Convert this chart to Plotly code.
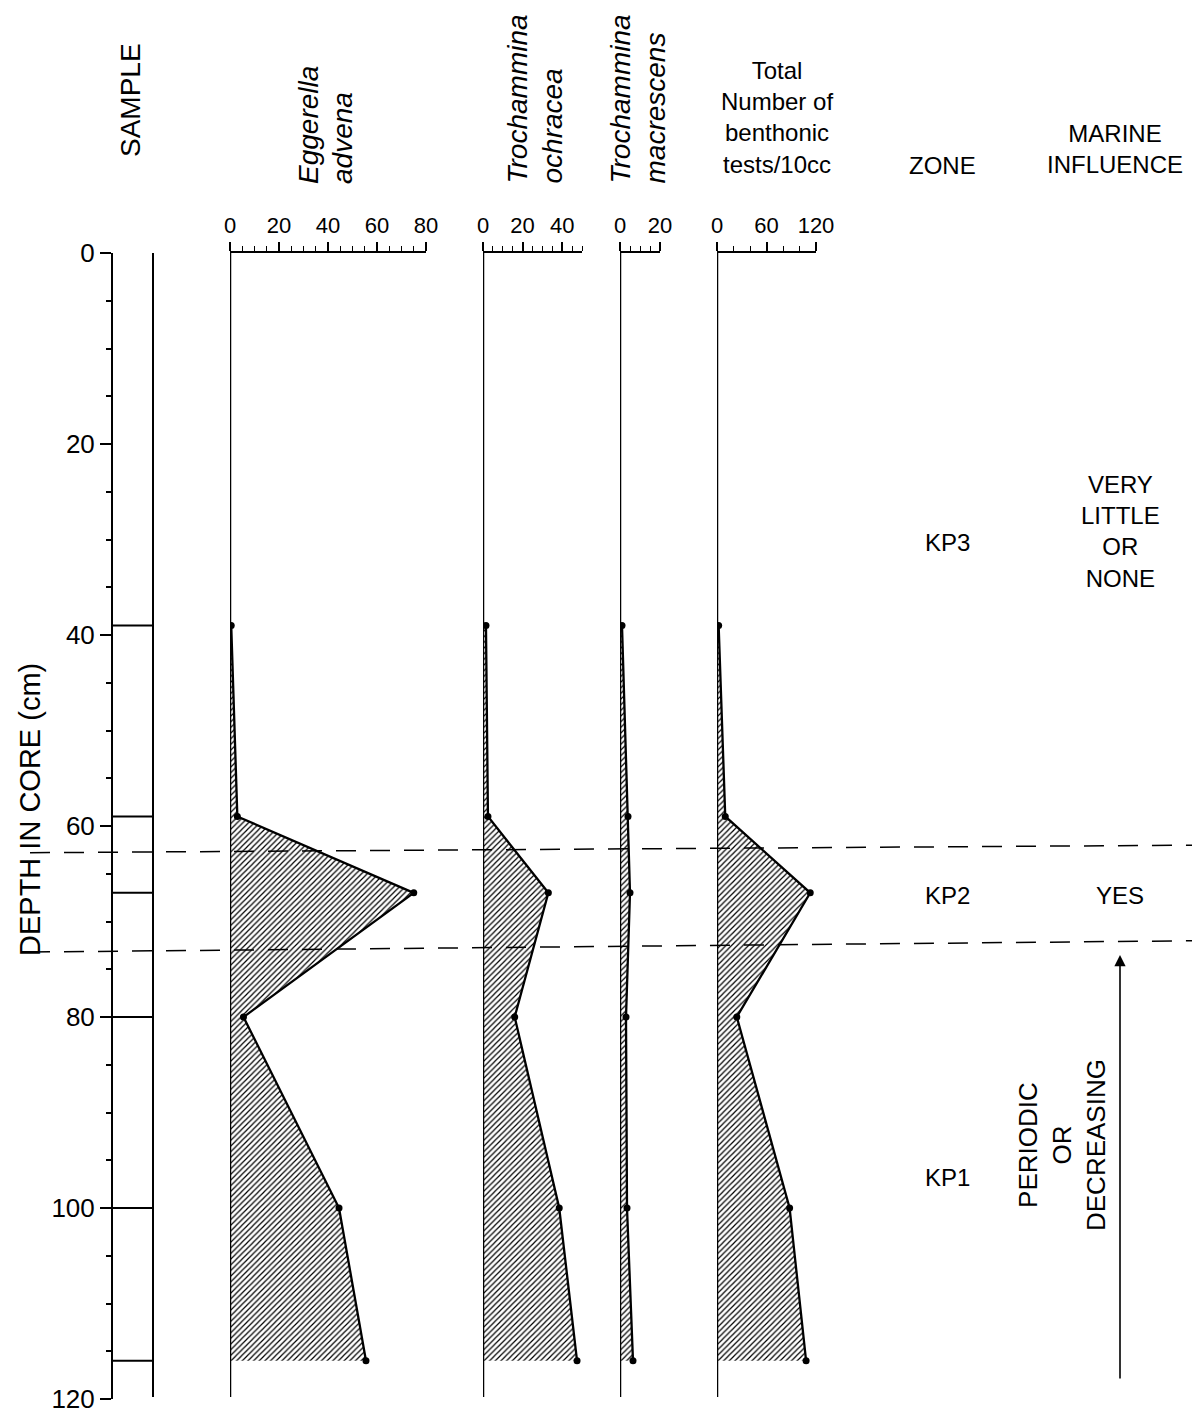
import plotly.graph_objects as go

# ---------------- data ----------------
sample_depths = [39, 59, 67, 80, 100, 116]
eggerella = [0.5, 3, 75, 5.5, 44.5, 55.5]
ochracea = [1.5, 2.5, 33, 16, 38.5, 47.5]
macrescens = [1, 4, 5, 3, 3.5, 6.5]
total_tests = [2, 10, 113, 24, 88, 108]

zone_bounds_left = [62.8, 73.2]
zone_bounds_right = [62.0, 72.0]
zone_names = ["KP3", "KP2", "KP1"]
zone_label_depths = [30.3, 67.3, 96.8]
marine_texts = ["VERY<br>LITTLE<br>OR<br>NONE", "YES"]
marine_depths = [29.2, 67.3]

depth_ticks = [0, 20, 40, 60, 80, 100, 120]

W, H = 1200, 1412
OFF = 8  # page body margin
FONT = "Liberation Sans, Arial, Helvetica, sans-serif"


def px(x):
    return (x - OFF) / W


def py(y):
    return 1 - (y - OFF) / H


panels = [
    # (axis id, values, domain px, range, tickvals, minor dtick)
    ("x", eggerella, (230, 426), [0, 80], [0, 20, 40, 60, 80], 5),
    ("x2", ochracea, (483, 582), [0, 50], [0, 20, 40], 5),
    ("x3", macrescens, (620, 660), [0, 20], [0, 20], 5),
    ("x4", total_tests, (717, 816), [0, 120], [0, 60, 120], 20),
]

fig = go.Figure()
shapes = []
layout_axes = {}

for ax_id, vals, dom, rng, tv, mdt in panels:
    fig.add_trace(go.Scatter(
        x=vals, y=sample_depths, xaxis=ax_id, yaxis="y",
        mode="lines+markers", fill="tozerox",
        fillpattern=dict(shape="/", size=4, solidity=0.3,
                         fgcolor="black", bgcolor="white", fillmode="replace"),
        line=dict(color="black", width=2.3),
        marker=dict(color="black", size=7),
        showlegend=False, hoverinfo="skip",
    ))
    key = "xaxis" if ax_id == "x" else "xaxis" + ax_id[1:]
    layout_axes[key] = dict(
        domain=[px(dom[0]), px(dom[1])], range=rng, side="top", anchor="y",
        automargin=False,
        showline=True, linecolor="black", linewidth=2,
        showgrid=False, zeroline=False,
        tickmode="array", tickvals=tv, ticks="outside", ticklen=9,
        tickwidth=1.5, tickcolor="black",
        minor=dict(dtick=mdt, ticks="outside", ticklen=5, tickwidth=1.2,
                   tickcolor="black", showgrid=False),
        tickfont=dict(family=FONT, size=22, color="black"),
    )
    # zero (baseline) line of each panel
    shapes.append(dict(type="line", xref=ax_id, yref="y", x0=0, x1=0,
                       y0=0, y1=119.8, line=dict(color="black", width=2.5)))

# sample column: right border line and sample marks
shapes.append(dict(type="line", xref="paper", yref="y", x0=px(153), x1=px(153),
                   y0=0, y1=119.8, line=dict(color="black", width=2)))
for d in sample_depths:
    shapes.append(dict(type="line", xref="paper", yref="y", x0=px(112), x1=px(153),
                       y0=d, y1=d, line=dict(color="black", width=2)))

# zone boundaries (dashed)
for yl, yr in zip(zone_bounds_left, zone_bounds_right):
    shapes.append(dict(type="line", xref="paper", yref="y", x0=px(30), x1=1.0,
                       y0=yl, y1=yr, line=dict(color="black", width=1.5, dash="20px,14px")))

ann = []


def text(x, y, t, size=24, angle=0, xanchor="center", yanchor="middle", yref="paper"):
    ann.append(dict(x=x, y=y, xref="paper", yref=yref, text=t, showarrow=False,
                    textangle=angle, xanchor=xanchor, yanchor=yanchor,
                    font=dict(family=FONT, size=size, color="black")))


# column headers
text(px(130), py(100), "SAMPLE", size=28, angle=-90)
text(px(308), py(186), "<i>Eggerella</i>", size=28, angle=-90, yanchor="bottom")
text(px(342), py(186), "<i>advena</i>", size=28, angle=-90, yanchor="bottom")
text(px(517), py(186), "<i>Trochammina</i>", size=28, angle=-90, yanchor="bottom")
text(px(552), py(186), "<i>ochracea</i>", size=28, angle=-90, yanchor="bottom")
text(px(620), py(186), "<i>Trochammina</i>", size=28, angle=-90, yanchor="bottom")
text(px(655), py(186), "<i>macrescens</i>", size=28, angle=-90, yanchor="bottom")
text(px(777), py(118), "Total<br>Number of<br>benthonic<br>tests/10cc", size=24)
text(px(942), py(165), "ZONE", size=24)
text(px(1115), py(149), "MARINE<br>INFLUENCE", size=24)

# zones
for name, d in zip(zone_names, zone_label_depths):
    text(px(947), d, name, size=24, yref="y")
for t, d in zip(marine_texts, marine_depths):
    text(px(1120), d, t, size=24, yref="y")
text(px(1062), py(1145), "PERIODIC<br>OR<br>DECREASING", size=26, angle=-90)

# depth axis title
text(px(30), py(810), "DEPTH IN CORE (cm)", size=29, angle=-90)

# arrow
ann.append(dict(x=px(1120), y=73.5, xref="paper", yref="y", ax=0, ay=425,
                axref="pixel", ayref="pixel", text="", showarrow=True,
                arrowhead=2, arrowsize=1.4, arrowwidth=1.6, arrowcolor="black"))

fig.update_layout(
    width=W, height=H,
    margin=dict(l=0, r=0, t=0, b=0, pad=0, autoexpand=False),
    paper_bgcolor="white", plot_bgcolor="white",
    yaxis=dict(
        domain=[py(1399), py(253)], range=[120, 0], anchor="free",
        position=px(112), automargin=False,
        showline=True, linecolor="black", linewidth=2,
        showgrid=False, zeroline=False,
        tickmode="array", tickvals=depth_ticks, ticks="outside",
        ticklen=11, tickwidth=2, tickcolor="black",
        minor=dict(dtick=5, ticks="outside", ticklen=5, tickwidth=1.5,
                   tickcolor="black", showgrid=False),
        tickfont=dict(family=FONT, size=26, color="black"),
    ),
    shapes=shapes, annotations=ann,
    **layout_axes,
)

fig.write_html("out.html")
